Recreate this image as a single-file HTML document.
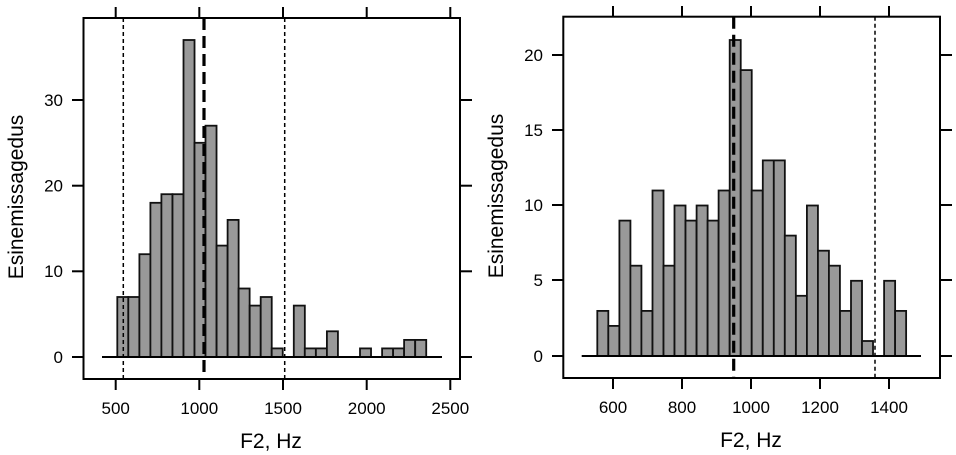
<!DOCTYPE html>
<html><head><meta charset="utf-8"><style>
html,body{margin:0;padding:0;background:#fff;}
svg{display:block;font-family:"Liberation Sans",Arial,sans-serif;}
</style></head><body>
<svg width="956" height="455" viewBox="0 0 956 455" xmlns="http://www.w3.org/2000/svg">
<g id="L">
<rect x="83.5" y="18" width="376.5" height="361" fill="none" stroke="#000" stroke-width="2"/>
<g fill="#999" stroke="#111" stroke-width="1.8">
<rect x="117.3" y="297.0" width="11.03" height="60.0"/>
<rect x="128.3" y="297.0" width="11.03" height="60.0"/>
<rect x="139.4" y="254.2" width="11.03" height="102.8"/>
<rect x="150.4" y="202.8" width="11.03" height="154.2"/>
<rect x="161.4" y="194.2" width="11.03" height="162.8"/>
<rect x="172.5" y="194.2" width="11.03" height="162.8"/>
<rect x="183.5" y="40.0" width="11.03" height="317.0"/>
<rect x="194.5" y="142.8" width="11.03" height="214.2"/>
<rect x="205.5" y="125.7" width="11.03" height="231.3"/>
<rect x="216.6" y="245.6" width="11.03" height="111.4"/>
<rect x="227.6" y="219.9" width="11.03" height="137.1"/>
<rect x="238.6" y="288.5" width="11.03" height="68.5"/>
<rect x="249.7" y="305.6" width="11.03" height="51.4"/>
<rect x="260.7" y="297.0" width="11.03" height="60.0"/>
<rect x="271.7" y="348.4" width="11.03" height="8.6"/>
<rect x="293.8" y="305.6" width="11.03" height="51.4"/>
<rect x="304.8" y="348.4" width="11.03" height="8.6"/>
<rect x="315.9" y="348.4" width="11.03" height="8.6"/>
<rect x="326.9" y="331.3" width="11.03" height="25.7"/>
<rect x="360.0" y="348.4" width="11.03" height="8.6"/>
<rect x="382.1" y="348.4" width="11.03" height="8.6"/>
<rect x="393.1" y="348.4" width="11.03" height="8.6"/>
<rect x="404.1" y="339.9" width="11.03" height="17.1"/>
<rect x="415.2" y="339.9" width="11.03" height="17.1"/>
</g>
<line x1="102" y1="357" x2="442" y2="357" stroke="#000" stroke-width="2"/>
<line x1="123.3" y1="18" x2="123.3" y2="379" stroke="#000" stroke-width="1.5" stroke-dasharray="4,3"/>
<line x1="284.7" y1="18" x2="284.7" y2="379" stroke="#000" stroke-width="1.5" stroke-dasharray="4,3"/>
<line x1="204" y1="18" x2="204" y2="379" stroke="#000" stroke-width="3.2" stroke-dasharray="12,6"/>
<g stroke="#000" stroke-width="2">
<line x1="115.7" y1="7" x2="115.7" y2="18"/><line x1="199.3" y1="7" x2="199.3" y2="18"/><line x1="283" y1="7" x2="283" y2="18"/><line x1="366.7" y1="7" x2="366.7" y2="18"/><line x1="450.3" y1="7" x2="450.3" y2="18"/>
<line x1="115.7" y1="379" x2="115.7" y2="390"/><line x1="199.3" y1="379" x2="199.3" y2="390"/><line x1="283" y1="379" x2="283" y2="390"/><line x1="366.7" y1="379" x2="366.7" y2="390"/><line x1="450.3" y1="379" x2="450.3" y2="390"/>
<line x1="72" y1="357" x2="83.5" y2="357"/><line x1="72" y1="271.3" x2="83.5" y2="271.3"/><line x1="72" y1="185.7" x2="83.5" y2="185.7"/><line x1="72" y1="100" x2="83.5" y2="100"/>
<line x1="460" y1="357" x2="472" y2="357"/><line x1="460" y1="271.3" x2="472" y2="271.3"/><line x1="460" y1="185.7" x2="472" y2="185.7"/><line x1="460" y1="100" x2="472" y2="100"/>
</g>
<g font-size="17" text-anchor="middle">
<text x="115.7" y="414">500</text><text x="199.3" y="414">1000</text><text x="283" y="414">1500</text><text x="366.7" y="414">2000</text><text x="450.3" y="414">2500</text>
</g>
<g font-size="17" text-anchor="end">
<text x="63" y="363">0</text><text x="63" y="277">10</text><text x="63" y="191.5">20</text><text x="63" y="106">30</text>
</g>
<text x="271" y="448" font-size="21" text-anchor="middle">F2, Hz</text>
<text transform="translate(23,197) rotate(-90)" font-size="21" text-anchor="middle">Esinemissagedus</text>
</g>

<g id="R">
<rect x="563.3" y="16.7" width="376.7" height="361.3" fill="none" stroke="#000" stroke-width="2"/>
<g fill="#999" stroke="#111" stroke-width="1.8">
<rect x="597.3" y="310.9" width="11.03" height="45.1"/>
<rect x="608.3" y="325.9" width="11.03" height="30.1"/>
<rect x="619.4" y="220.6" width="11.03" height="135.4"/>
<rect x="630.4" y="265.7" width="11.03" height="90.3"/>
<rect x="641.4" y="310.9" width="11.03" height="45.1"/>
<rect x="652.5" y="190.5" width="11.03" height="165.5"/>
<rect x="663.5" y="265.7" width="11.03" height="90.3"/>
<rect x="674.5" y="205.5" width="11.03" height="150.5"/>
<rect x="685.5" y="220.6" width="11.03" height="135.4"/>
<rect x="696.6" y="205.5" width="11.03" height="150.5"/>
<rect x="707.6" y="220.6" width="11.03" height="135.4"/>
<rect x="718.6" y="190.5" width="11.03" height="165.5"/>
<rect x="729.7" y="40.0" width="11.03" height="316.0"/>
<rect x="740.7" y="70.1" width="11.03" height="285.9"/>
<rect x="751.7" y="190.5" width="11.03" height="165.5"/>
<rect x="762.8" y="160.4" width="11.03" height="195.6"/>
<rect x="773.8" y="160.4" width="11.03" height="195.6"/>
<rect x="784.8" y="235.6" width="11.03" height="120.4"/>
<rect x="795.9" y="295.8" width="11.03" height="60.2"/>
<rect x="806.9" y="205.5" width="11.03" height="150.5"/>
<rect x="817.9" y="250.7" width="11.03" height="105.3"/>
<rect x="828.9" y="265.7" width="11.03" height="90.3"/>
<rect x="840.0" y="310.9" width="11.03" height="45.1"/>
<rect x="851.0" y="280.8" width="11.03" height="75.2"/>
<rect x="862.0" y="341.0" width="11.03" height="15.0"/>
<rect x="884.1" y="280.8" width="11.03" height="75.2"/>
<rect x="895.1" y="310.9" width="11.03" height="45.1"/>
</g>
<line x1="581.7" y1="356" x2="921" y2="356" stroke="#000" stroke-width="2"/>
<line x1="875" y1="16.7" x2="875" y2="378" stroke="#000" stroke-width="1.5" stroke-dasharray="4,3"/>
<line x1="733.7" y1="16.7" x2="733.7" y2="378" stroke="#000" stroke-width="3.2" stroke-dasharray="12,6"/>
<g stroke="#000" stroke-width="2">
<line x1="613" y1="6" x2="613" y2="16.7"/><line x1="682" y1="6" x2="682" y2="16.7"/><line x1="751" y1="6" x2="751" y2="16.7"/><line x1="820" y1="6" x2="820" y2="16.7"/><line x1="889" y1="6" x2="889" y2="16.7"/>
<line x1="613" y1="378" x2="613" y2="389"/><line x1="682" y1="378" x2="682" y2="389"/><line x1="751" y1="378" x2="751" y2="389"/><line x1="820" y1="378" x2="820" y2="389"/><line x1="889" y1="378" x2="889" y2="389"/>
<line x1="552" y1="356" x2="563.3" y2="356"/><line x1="552" y1="280" x2="563.3" y2="280"/><line x1="552" y1="205" x2="563.3" y2="205"/><line x1="552" y1="130" x2="563.3" y2="130"/><line x1="552" y1="55" x2="563.3" y2="55"/>
<line x1="940" y1="356" x2="952" y2="356"/><line x1="940" y1="280" x2="952" y2="280"/><line x1="940" y1="205" x2="952" y2="205"/><line x1="940" y1="130" x2="952" y2="130"/><line x1="940" y1="55" x2="952" y2="55"/>
</g>
<g font-size="17" text-anchor="middle">
<text x="613" y="413">600</text><text x="682" y="413">800</text><text x="751" y="413">1000</text><text x="820" y="413">1200</text><text x="889" y="413">1400</text>
</g>
<g font-size="17" text-anchor="end">
<text x="543" y="362">0</text><text x="543" y="286">5</text><text x="543" y="211">10</text><text x="543" y="136">15</text><text x="543" y="61">20</text>
</g>
<text x="751" y="447" font-size="21" text-anchor="middle">F2, Hz</text>
<text transform="translate(503,196) rotate(-90)" font-size="21" text-anchor="middle">Esinemissagedus</text>
</g>
</svg>
</body></html>
